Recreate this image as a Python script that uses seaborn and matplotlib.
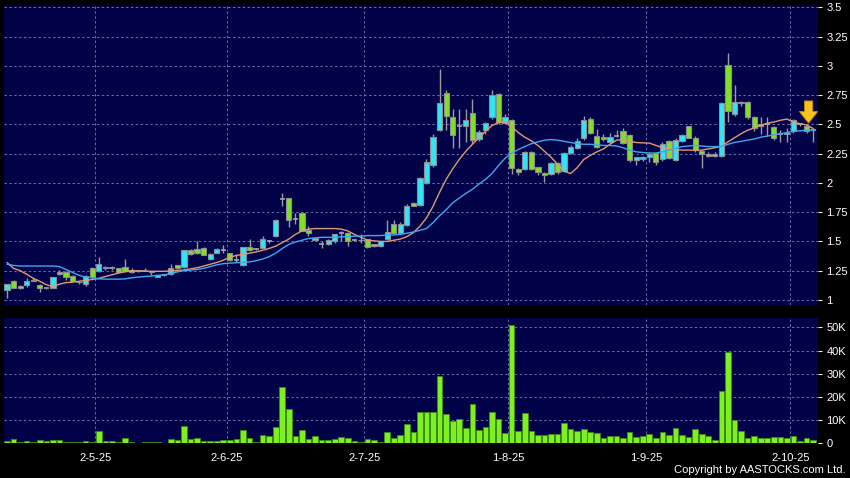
import numpy as np
import pandas as pd
import seaborn as sns
import matplotlib.pyplot as plt

# Dias de mercado de HK mostrados (9 abr - 8 oct 2025)
hk_holidays = ["2025-04-18", "2025-04-21", "2025-05-01", "2025-05-05",
               "2025-07-01", "2025-10-01", "2025-10-07"]
tick_dates = ["2025-05-02", "2025-06-02", "2025-07-02",
              "2025-08-01", "2025-09-01", "2025-10-02"]

open_px = [
    1.085, 1.16, 1.10, 1.13, 1.17, 1.13, 1.10, 1.10, 1.22, 1.24,
    1.205, 1.155, 1.14, 1.27, 1.25, 1.27, 1.285, 1.27, 1.28, 1.24,
    1.255, 1.255, 1.245, 1.20, 1.21, 1.22, 1.30, 1.28, 1.425, 1.435,
    1.445, 1.35, 1.405, 1.43, 1.40, 1.34, 1.295, 1.45, 1.435, 1.445,
    1.50, 1.55, 1.865, 1.87, 1.69, 1.74, 1.60, 1.53, 1.48, 1.478,
    1.50, 1.57, 1.575, 1.51, 1.515, 1.52, 1.475, 1.465, 1.52, 1.645,
    1.57, 1.64, 1.825, 1.81, 2.00, 2.15, 2.45, 2.77, 2.56, 2.49,
    2.49, 2.60, 2.375, 2.45, 2.565, 2.76, 2.515, 2.54, 2.12, 2.115,
    2.26, 2.135, 2.085, 2.08, 2.17, 2.10, 2.255, 2.30, 2.38, 2.55,
    2.40, 2.39, 2.35, 2.40, 2.445, 2.41, 2.196, 2.20, 2.225, 2.253,
    2.20, 2.36, 2.196, 2.36, 2.486, 2.387, 2.27, 2.23, 2.23, 2.23,
    3.01, 2.59, 2.69, 2.69, 2.566, 2.485, 2.50, 2.48, 2.42, 2.42,
    2.44, 2.50, 2.49, 2.45,
]
close_px = [
    1.135, 1.10, 1.12, 1.16, 1.165, 1.105, 1.10, 1.20, 1.24, 1.20,
    1.165, 1.15, 1.205, 1.20, 1.305, 1.285, 1.27, 1.24, 1.25, 1.26,
    1.25, 1.26, 1.24, 1.213, 1.213, 1.27, 1.27, 1.425, 1.39, 1.40,
    1.385, 1.39, 1.435, 1.43, 1.34, 1.34, 1.45, 1.425, 1.435, 1.52,
    1.50, 1.68, 1.865, 1.68, 1.69, 1.59, 1.57, 1.51, 1.48, 1.512,
    1.56, 1.57, 1.505, 1.51, 1.51, 1.45, 1.46, 1.50, 1.58, 1.57,
    1.645, 1.80, 1.805, 2.04, 2.175, 2.39, 2.68, 2.57, 2.41, 2.49,
    2.535, 2.37, 2.435, 2.515, 2.75, 2.52, 2.56, 2.13, 2.09, 2.265,
    2.115, 2.09, 2.07, 2.17, 2.09, 2.255, 2.31, 2.36, 2.54, 2.43,
    2.31, 2.375, 2.39, 2.40, 2.34, 2.195, 2.22, 2.22, 2.247, 2.176,
    2.33, 2.21, 2.37, 2.41, 2.387, 2.28, 2.25, 2.25, 2.25, 2.68,
    2.61, 2.69, 2.68, 2.566, 2.466, 2.50, 2.50, 2.387, 2.42, 2.42,
    2.536, 2.50, 2.44, 2.45,
]
high_px = [
    1.14, 1.17, 1.125, 1.185, 1.19, 1.135, 1.105, 1.20, 1.26, 1.25,
    1.21, 1.16, 1.21, 1.28, 1.365, 1.29, 1.29, 1.275, 1.35, 1.27,
    1.26, 1.27, 1.25, 1.215, 1.215, 1.31, 1.30, 1.43, 1.435, 1.50,
    1.45, 1.40, 1.44, 1.47, 1.40, 1.39, 1.455, 1.525, 1.44, 1.55,
    1.51, 1.69, 1.91, 1.87, 1.74, 1.75, 1.63, 1.54, 1.50, 1.52,
    1.56, 1.59, 1.58, 1.52, 1.56, 1.52, 1.48, 1.50, 1.68, 1.68,
    1.67, 1.82, 1.84, 2.05, 2.20, 2.42, 2.97, 2.79, 2.63, 2.63,
    2.63, 2.72, 2.45, 2.52, 2.79, 2.77, 2.59, 2.55, 2.13, 2.27,
    2.27, 2.14, 2.09, 2.18, 2.18, 2.26, 2.32, 2.38, 2.57, 2.56,
    2.46, 2.42, 2.43, 2.45, 2.47, 2.42, 2.22, 2.23, 2.26, 2.26,
    2.35, 2.37, 2.38, 2.42, 2.49, 2.40, 2.28, 2.26, 2.26, 2.69,
    3.11, 2.84, 2.70, 2.70, 2.57, 2.56, 2.56, 2.49, 2.45, 2.47,
    2.55, 2.51, 2.50, 2.47,
]
low_px = [
    1.02, 1.10, 1.09, 1.11, 1.16, 1.07, 1.095, 1.10, 1.21, 1.17,
    1.16, 1.14, 1.12, 1.19, 1.24, 1.26, 1.26, 1.23, 1.25, 1.23,
    1.24, 1.245, 1.215, 1.195, 1.205, 1.215, 1.265, 1.275, 1.385, 1.39,
    1.38, 1.345, 1.40, 1.40, 1.33, 1.325, 1.29, 1.42, 1.43, 1.44,
    1.49, 1.54, 1.80, 1.62, 1.65, 1.59, 1.55, 1.50, 1.44, 1.47,
    1.49, 1.50, 1.46, 1.50, 1.49, 1.44, 1.45, 1.455, 1.51, 1.56,
    1.56, 1.63, 1.80, 1.80, 1.99, 2.14, 2.44, 2.45, 2.30, 2.30,
    2.35, 2.33, 2.36, 2.42, 2.55, 2.50, 2.51, 2.08, 2.07, 2.11,
    2.11, 2.07, 2.01, 2.07, 2.08, 2.09, 2.25, 2.29, 2.37, 2.42,
    2.30, 2.36, 2.34, 2.39, 2.33, 2.18, 2.15, 2.19, 2.18, 2.15,
    2.19, 2.20, 2.19, 2.35, 2.38, 2.26, 2.125, 2.22, 2.22, 2.22,
    2.52, 2.57, 2.66, 2.55, 2.44, 2.42, 2.40, 2.37, 2.35, 2.35,
    2.43, 2.49, 2.43, 2.35,
]
volume_k = [
    1.1, 2.0, 0.6, 1.0, 0.6, 1.3, 0.9, 1.4, 1.4, 0.7,
    0.6, 0.7, 0.9, 0.7, 5.3, 1.0, 1.0, 0.7, 2.2, 0.6,
    0.3, 0.7, 0.4, 0.4, 0.15, 2.0, 1.4, 7.5, 1.9, 2.4,
    1.0, 1.0, 1.1, 1.4, 1.3, 1.9, 5.6, 2.3, 0.7, 3.4,
    3.3, 7.0, 24.3, 14.7, 3.2, 5.6, 2.0, 3.3, 1.3, 1.3,
    1.9, 2.7, 2.3, 0.9, 0.4, 1.9, 1.6, 0.7, 4.7, 2.2,
    3.7, 8.2, 4.9, 13.4, 13.6, 13.6, 29.0, 12.6, 9.8, 10.5,
    6.6, 17.0, 5.7, 7.2, 13.4, 10.6, 4.3, 50.9, 5.3, 13.1,
    5.3, 3.6, 3.4, 3.9, 3.9, 8.9, 6.0, 5.5, 6.2, 4.9,
    4.5, 2.2, 3.2, 3.2, 2.2, 4.9, 2.6, 3.2, 4.2, 2.2,
    4.9, 3.6, 6.5, 3.6, 2.9, 6.3, 4.2, 3.0, 1.4, 22.7,
    39.5, 10.0, 5.2, 2.2, 3.3, 2.4, 2.4, 2.6, 2.9, 2.2,
    3.3, 1.1, 2.4, 1.4,
]
# medias moviles (naranja = corta, azul = larga)
ma_fast = [
    1.32, 1.27, 1.25, 1.22, 1.185, 1.16, 1.13, 1.115, 1.135, 1.148,
    1.152, 1.16, 1.167, 1.175, 1.185, 1.20, 1.215, 1.23, 1.24, 1.25,
    1.248, 1.245, 1.245, 1.245, 1.245, 1.248, 1.252, 1.256, 1.265, 1.275,
    1.29, 1.305, 1.32, 1.34, 1.365, 1.38, 1.39, 1.40, 1.41, 1.425,
    1.44, 1.46, 1.49, 1.52, 1.56, 1.59, 1.605, 1.61, 1.61, 1.61,
    1.61, 1.605, 1.59, 1.56, 1.535, 1.51, 1.505, 1.50, 1.50, 1.51,
    1.52, 1.54, 1.575, 1.63, 1.70, 1.80, 1.92, 2.03, 2.12, 2.20,
    2.27, 2.33, 2.385, 2.44, 2.49, 2.515, 2.52, 2.48, 2.43, 2.39,
    2.36, 2.32, 2.27, 2.22, 2.16, 2.10, 2.08, 2.13, 2.20, 2.235,
    2.265, 2.29, 2.33, 2.365, 2.37, 2.355, 2.345, 2.342, 2.34, 2.32,
    2.30, 2.29, 2.285, 2.28, 2.28, 2.28, 2.28, 2.29, 2.30, 2.315,
    2.35, 2.385, 2.42, 2.45, 2.47, 2.49, 2.51, 2.52, 2.535, 2.545,
    2.52, 2.505, 2.495, 2.465,
]
ma_slow = [
    1.305, 1.295, 1.29, 1.29, 1.29, 1.29, 1.29, 1.29, 1.285, 1.26,
    1.235, 1.21, 1.195, 1.19, 1.18, 1.178, 1.178, 1.178, 1.18, 1.19,
    1.195, 1.20, 1.205, 1.21, 1.215, 1.225, 1.24, 1.25, 1.255, 1.26,
    1.27, 1.285, 1.30, 1.31, 1.315, 1.318, 1.32, 1.325, 1.335, 1.35,
    1.37, 1.40, 1.44, 1.475, 1.495, 1.51, 1.525, 1.53, 1.535, 1.535,
    1.535, 1.54, 1.54, 1.545, 1.545, 1.55, 1.55, 1.55, 1.555, 1.555,
    1.56, 1.57, 1.58, 1.595, 1.61, 1.66, 1.72, 1.77, 1.83, 1.87,
    1.91, 1.945, 1.99, 2.03, 2.08, 2.15, 2.21, 2.255, 2.285, 2.31,
    2.335, 2.35, 2.365, 2.37, 2.365, 2.355, 2.345, 2.335, 2.33, 2.33,
    2.325, 2.32, 2.32, 2.315, 2.30, 2.28, 2.265, 2.26, 2.255, 2.255,
    2.265, 2.28, 2.295, 2.31, 2.315, 2.32, 2.315, 2.31, 2.31, 2.31,
    2.33, 2.345, 2.355, 2.365, 2.375, 2.39, 2.40, 2.41, 2.42, 2.43,
    2.44, 2.445, 2.45, 2.45,
]

price_ticks = [1, 1.25, 1.5, 1.75, 2, 2.25, 2.5, 2.75, 3, 3.25, 3.5]
volume_ticks = [0, 10000, 20000, 30000, 40000, 50000]

# Eje temporal: sesiones bursatiles (sin huecos de fines de semana)
days = pd.bdate_range("2025-04-09", "2025-10-08")
days = days[~days.isin(pd.to_datetime(hk_holidays))]
pos = np.arange(len(days))
tick_pos = [days.get_loc(pd.Timestamp(d)) - 0.5 for d in tick_dates]
tick_lbl = [f"{pd.Timestamp(d).day}-{pd.Timestamp(d).month}-{pd.Timestamp(d):%y}" for d in tick_dates]

df = pd.DataFrame({"pos": pos, "open": open_px, "high": high_px, "low": low_px,
                   "close": close_px, "volume": np.array(volume_k) * 1000,
                   "ma_fast": ma_fast, "ma_slow": ma_slow})

navy = "#020248"
grid_c = "#6c6ca6"
sns.set_theme(style="dark", rc={"axes.facecolor": navy, "figure.facecolor": "black"})
plt.rcParams["font.family"] = ["Liberation Sans", "DejaVu Sans"]

fig = plt.figure(figsize=(8.5, 4.78), dpi=100, facecolor="black")
ax_p = fig.add_axes([4 / 850, 1 - 305 / 478, 814 / 850, 299 / 478])
ax_v = fig.add_axes([4 / 850, 1 - 443.3 / 478, 814 / 850, 125 / 478])

# Velas
up = df["close"] >= df["open"]
doji = (df["close"] - df["open"]).abs() < 0.004
ax_p.vlines(df["pos"], df["low"], df["high"], color="#9a9aa0", lw=1, zorder=2)
body = df[~doji]
ax_p.bar(body["pos"], (body["close"] - body["open"]).abs(),
         bottom=np.minimum(body["open"], body["close"]), width=0.8,
         color=np.where(up[~doji], "#33e4f4", "#80e024"),
         edgecolor="#8c8c92", linewidth=0.8, zorder=3)
flat = df[doji]
ax_p.hlines(flat["close"], flat["pos"] - 0.4, flat["pos"] + 0.4,
            color="#a6a6aa", lw=1.2, zorder=3)

sns.lineplot(data=df, x="pos", y="ma_fast", ax=ax_p, color="#e09a72", lw=1, zorder=4)
sns.lineplot(data=df, x="pos", y="ma_slow", ax=ax_p, color="#42a6ee", lw=1, zorder=4)

# flecha amarilla sobre la ultima sesion
ax_p.annotate("", xy=(122.3, 2.51), xytext=(122.3, 2.70), zorder=6,
              arrowprops=dict(arrowstyle="simple,head_length=0.7,head_width=1.1,tail_width=0.5",
                              fc="#f6c21c", ec="#c88400", lw=0.6,
                              shrinkA=0, shrinkB=0))

# Volumen
sns.barplot(data=df, x="pos", y="volume", ax=ax_v, native_scale=True,
            color="#7cf020", saturation=1, width=0.86, errorbar=None,
            edgecolor="#3e8c12", linewidth=0.6, zorder=3)

for ax in (ax_p, ax_v):
    ax.set_facecolor(navy)
    ax.set_xlim(-0.46, 123.74)
    ax.set_xlabel("")
    ax.set_ylabel("")
    ax.set_xticks(tick_pos)
    ax.grid(True, color=grid_c, linestyle=(0, (2.5, 2.5)), lw=0.7)
    ax.set_axisbelow(True)
    for s in ax.spines.values():
        s.set_visible(False)
    ax.yaxis.tick_right()
    ax.tick_params(axis="y", colors="white", length=3, width=0.8, pad=3, labelsize=8)

ax_p.set_ylim(0.957, 3.511)
ax_p.set_yticks(price_ticks)
ax_p.set_yticklabels([f"{t:g}" for t in price_ticks])
ax_p.tick_params(axis="x", length=0, labelbottom=False)

ax_v.set_ylim(0, 53900)
ax_v.set_yticks(volume_ticks)
ax_v.set_yticklabels(["0" if v == 0 else f"{v // 1000}K" for v in volume_ticks])
ax_v.set_xticklabels(tick_lbl)
ax_v.tick_params(axis="x", colors="#9a9aa8", labelcolor="white", length=4,
                 width=0.8, pad=3, labelsize=8)

fig.text(845 / 850, 1 - 470 / 478, "Copyright by AASTOCKS.com Ltd.", color="white",
         fontsize=8, ha="right", va="center")

plt.savefig("out.png", dpi=100, facecolor="black")
